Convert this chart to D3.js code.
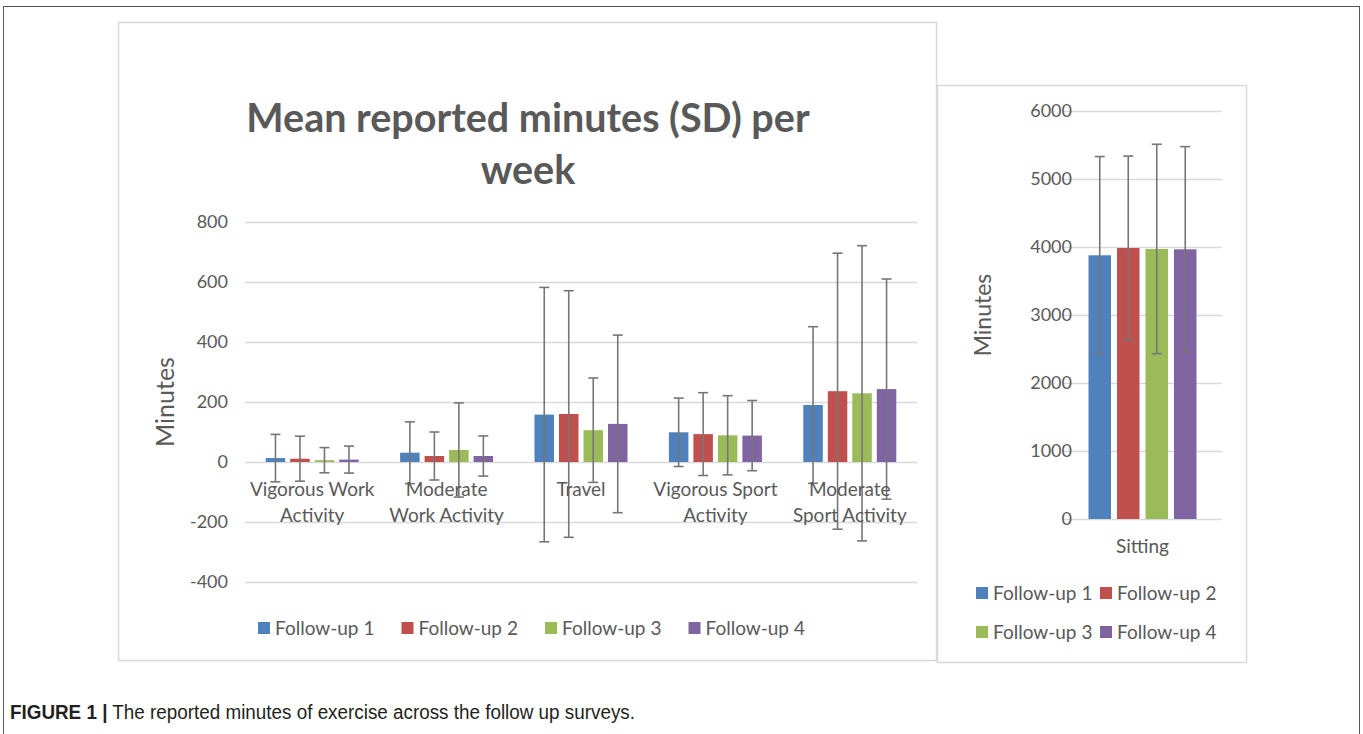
<!DOCTYPE html>
<html>
<head>
<meta charset="utf-8">
<script src="https://cdn.jsdelivr.net/npm/d3@7"></script>
<style>
  html, body { margin: 0; padding: 0; background: #fff; }
  svg { display: block; }
  text { font-family: Lato, "Open Sans", sans-serif; fill: #595959; }
</style>
</head>
<body>
<svg id="chart" width="1363" height="734"></svg>
<script>
// data
const series = ["Follow-up 1", "Follow-up 2", "Follow-up 3", "Follow-up 4"];
const colors = ["#4f81bd", "#c0504d", "#9bbb59", "#8064a2"];
const categories = ["Vigorous Work\nActivity", "Moderate\nWork Activity", "Travel", "Vigorous Sport\nActivity", "Moderate\nSport Activity"];
// mean minutes per category, one array per follow-up
const meanFU1 = [13, 31, 158, 99, 190];
const meanFU2 = [11, 20, 160, 93, 236];
const meanFU3 = [6, 40, 106, 89, 229];
const meanFU4 = [8, 20, 127, 88, 243];
const sdFU1 = [79, 103, 424, 114, 261];
const sdFU2 = [75, 80, 411, 138, 460];
const sdFU3 = [42, 157, 174, 132, 492];
const sdFU4 = [45, 67, 296, 117, 367];
const leftTicks = [-400, -200, 0, 200, 400, 600, 800];

const sittingCategory = ["Sitting"];
const sittingMean = [3878, 3985, 3971, 3966];
const sittingSD = [1452, 1352, 1540, 1510];
const rightTicks = [0, 1000, 2000, 3000, 4000, 5000, 6000];

const titleLines = ["Mean reported minutes (SD) per", "week"];
const captionBold = "FIGURE 1 |";
const captionText = " The reported minutes of exercise across the follow up surveys.";

const means = [meanFU1, meanFU2, meanFU3, meanFU4];
const sds = [sdFU1, sdFU2, sdFU3, sdFU4];

const svg = d3.select("#chart");
const plain = d => String(d); // hyphen minus, no thousands comma

// outer frame + panels
svg.append("rect").attr("x", 3.5).attr("y", 6.5).attr("width", 1356).attr("height", 760)
  .attr("fill", "none").attr("stroke", "#555").attr("stroke-width", 1);
svg.append("rect").attr("x", 118.5).attr("y", 22.5).attr("width", 818).attr("height", 638)
  .attr("fill", "#fff").attr("stroke", "#d9d9d9").attr("stroke-width", 1.5);
svg.append("rect").attr("x", 937.5).attr("y", 85.5).attr("width", 309).attr("height", 577)
  .attr("fill", "#fff").attr("stroke", "#d9d9d9").attr("stroke-width", 1.5);

// ---------- left chart ----------
const x = d3.scaleBand().domain(categories).range([245, 917]);
const xi = d3.scaleBand().domain(series).range([-49, 49]);
const y = d3.scaleLinear().domain([-400, 800]).range([582, 222]);

const left = svg.append("g");

left.append("g")
  .attr("transform", "translate(245,0)")
  .call(d3.axisLeft(y).tickValues(leftTicks).tickFormat(plain).tickSize(-672).tickPadding(17))
  .call(g => g.select(".domain").remove())
  .call(g => g.selectAll(".tick line").attr("stroke", "#d9d9d9").attr("stroke-width", 1.3))
  .call(g => g.selectAll(".tick text").attr("font-size", 18).attr("fill", "#595959")
    .attr("font-family", "Lato, sans-serif"));

// title
left.append("text")
  .attr("text-anchor", "middle")
  .attr("font-size", 39.5).attr("font-weight", "bold")
  .selectAll("tspan").data(titleLines).join("tspan")
    .attr("x", 528).attr("y", (d, i) => 132 + i * 52)
    .text(d => d);

// y label
left.append("text")
  .attr("transform", "translate(174,402) rotate(-90)")
  .attr("text-anchor", "middle").attr("font-size", 25)
  .text("Minutes");

const barW = 19.5;
series.forEach((s, si) => {
  const g = left.append("g");
  g.selectAll("rect").data(categories).join("rect")
    .attr("x", c => x(c) + x.bandwidth() / 2 + xi(s) + (xi.bandwidth() - barW) / 2)
    .attr("width", barW)
    .attr("y", (c, ci) => y(Math.max(0, means[si][ci])))
    .attr("height", (c, ci) => Math.abs(y(means[si][ci]) - y(0)))
    .attr("fill", colors[si]);
});

// error bars on top
series.forEach((s, si) => {
  categories.forEach((c, ci) => {
    const cx = x(c) + x.bandwidth() / 2 + xi(s) + xi.bandwidth() / 2;
    const hi = y(means[si][ci] + sds[si][ci]);
    const lo = y(means[si][ci] - sds[si][ci]);
    const eg = left.append("g").attr("stroke", "#767676").attr("stroke-width", 1.6);
    eg.append("line").attr("x1", cx).attr("x2", cx).attr("y1", hi).attr("y2", lo);
    eg.append("line").attr("x1", cx - 5).attr("x2", cx + 5).attr("y1", hi).attr("y2", hi);
    eg.append("line").attr("x1", cx - 5).attr("x2", cx + 5).attr("y1", lo).attr("y2", lo);
  });
});

// category labels
categories.forEach(c => {
  left.append("text")
    .attr("text-anchor", "middle").attr("font-size", 19)
    .selectAll("tspan").data(c.split("\n")).join("tspan")
      .attr("x", x(c) + x.bandwidth() / 2)
      .attr("y", (d, i) => 496 + i * 26)
      .text(d => d);
});

// legend left
const legL = left.append("g").attr("transform", "translate(258,628)");
series.forEach((s, si) => {
  const it = legL.append("g").attr("transform", `translate(${si * 143.5},0)`);
  it.append("rect").attr("x", 0).attr("y", -6).attr("width", 12).attr("height", 12).attr("fill", colors[si]);
  it.append("text").attr("x", 17).attr("y", 6.5).attr("font-size", 19).text(s);
});

// ---------- right chart ----------
const xr = d3.scaleBand().domain(sittingCategory).range([1063, 1222]);
const xri = d3.scaleBand().domain(series).range([-57, 57]);
const yr = d3.scaleLinear().domain([0, 6000]).range([519, 111]);
const right = svg.append("g");

right.append("g")
  .attr("transform", "translate(1063,0)")
  .call(d3.axisLeft(yr).tickValues(rightTicks).tickFormat(plain).tickSize(-159))
  .call(g => g.select(".domain").remove())
  .call(g => g.selectAll(".tick line").attr("stroke", "#d9d9d9").attr("stroke-width", 1.3))
  .call(g => g.selectAll(".tick text").attr("font-size", 18).attr("fill", "#595959")
    .attr("font-family", "Lato, sans-serif").attr("x", 9));

right.append("text")
  .attr("transform", "translate(991,315) rotate(-90)")
  .attr("text-anchor", "middle").attr("font-size", 23)
  .text("Minutes");

const barWr = 22.5;
const rc = xr(sittingCategory[0]) + xr.bandwidth() / 2;
right.selectAll("rect.bar").data(series).join("rect")
  .attr("class", "bar")
  .attr("x", s => rc + xri(s) + (xri.bandwidth() - barWr) / 2)
  .attr("width", barWr)
  .attr("y", (s, si) => yr(sittingMean[si]))
  .attr("height", (s, si) => yr(0) - yr(sittingMean[si]))
  .attr("fill", (s, si) => colors[si]);

series.forEach((s, si) => {
  const cx = rc + xri(s) + xri.bandwidth() / 2;
  const hi = yr(sittingMean[si] + sittingSD[si]);
  const lo = yr(sittingMean[si] - sittingSD[si]);
  const eg = right.append("g").attr("stroke", "#767676").attr("stroke-width", 1.6);
  eg.append("line").attr("x1", cx).attr("x2", cx).attr("y1", hi).attr("y2", lo);
  eg.append("line").attr("x1", cx - 5).attr("x2", cx + 5).attr("y1", hi).attr("y2", hi);
  eg.append("line").attr("x1", cx - 5).attr("x2", cx + 5).attr("y1", lo).attr("y2", lo);
});

right.append("text")
  .attr("x", rc).attr("y", 553).attr("text-anchor", "middle").attr("font-size", 19)
  .text(sittingCategory[0]);

const legR = right.append("g");
series.forEach((s, si) => {
  const it = legR.append("g")
    .attr("transform", `translate(${976 + (si % 2) * 124},${593 + Math.floor(si / 2) * 39})`);
  it.append("rect").attr("x", 0).attr("y", -6).attr("width", 12).attr("height", 12).attr("fill", colors[si]);
  it.append("text").attr("x", 17).attr("y", 6.5).attr("font-size", 19).text(s);
});

// caption
const cap = svg.append("text").attr("x", 10).attr("y", 719)
  .attr("font-size", 19.5)
  .attr("textLength", 625).attr("lengthAdjust", "spacingAndGlyphs")
  .style("font-family", "'Liberation Sans Narrow', 'Arial Narrow', 'Liberation Sans', sans-serif")
  .style("fill", "#231f20");
cap.append("tspan").attr("font-weight", "bold").text(captionBold);
cap.append("tspan").text(captionText);
</script>
</body>
</html>
